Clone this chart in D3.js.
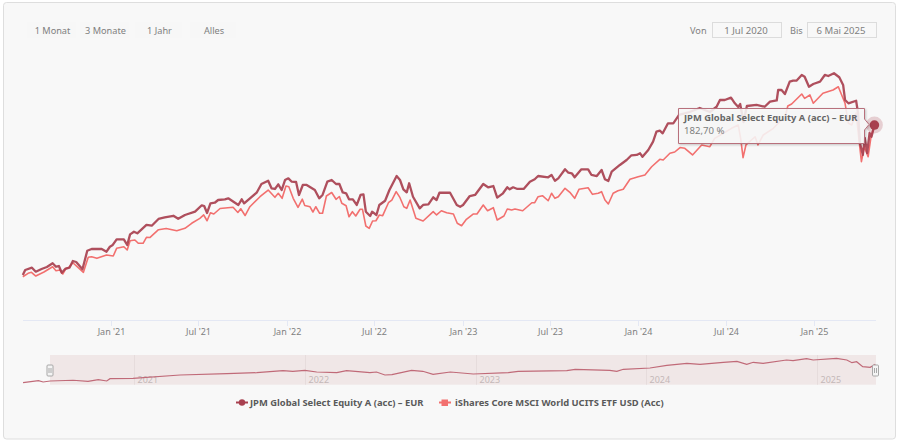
<html>

<head>
	<script src="https://d3js.org/d3.v7.min.js"></script>
	<style>
		html, body { margin: 0; padding: 0; background: #fff; overflow: hidden; }
		text { font-family: "Noto Sans", sans-serif; }
	</style>
</head>

<body>
	<div id="chart"></div>
</body>

<script>
// days since 1 Jul 2020 and performance in %
var jpmDays = [0,5,19,27,39,50,62,69,75,81,88,97,104,111,124,134,143,164,174,181,187,195,210,217,223,231,238,257,268,282,295,313,323,337,358,372,377,383,390,399,406,420,427,448,455,460,486,496,510,517,524,531,538,545,552,559,568,574,582,590,607,616,623,633,642,651,658,665,672,678,686,694,702,708,713,722,726,735,741,753,762,777,784,791,798,803,811,825,832,843,853,860,866,888,902,909,915,929,940,957,967,978,986,998,1007,1012,1019,1028,1041,1054,1064,1071,1092,1099,1106,1113,1127,1134,1141,1147,1161,1175,1182,1193,1203,1210,1217,1224,1241,1255,1265,1276,1283,1288,1300,1310,1317,1324,1330,1341,1352,1364,1386,1407,1428,1442,1449,1459,1472,1480,1487,1491,1498,1505,1525,1542,1553,1567,1570,1577,1584,1594,1601,1608,1619,1625,1634,1643,1657,1667,1674,1686,1697,1705,1709,1716,1732,1736,1740,1746,1750,1755,1760,1764,1770]
var jpmValues = [-4.8,1.5,4.4,-0.6,2.8,5.3,9.9,5.6,6.5,-1.9,2.8,4.4,12.8,11.5,2.4,25.6,27.8,27.8,24.4,30.6,32.8,39.9,39.9,32.8,46.1,49.4,47.4,57.8,56.9,65.3,67.4,69.3,65.5,70.3,74.4,82.4,81.5,72.8,84.9,85.6,89,89.9,91.1,82.8,89.9,84.9,98.1,109,113.1,103.6,102.8,108.6,101.5,114,116.1,111.9,111.5,95.3,107.8,107.8,101.5,91.1,95.3,111.9,114,109,109,98.4,97.4,89.9,89.9,82.8,95.3,96.1,74.4,69,74.4,70.3,82.8,88.1,101.5,119,114,102.4,98.6,109.9,93.1,78.6,82.8,83.6,92.4,89,98.1,98.1,82.8,80.6,82.8,94,95.3,109,104.9,106.5,91.9,97.4,104.9,102.4,104.9,102.8,102.8,111.9,114.9,119,117.4,120.3,113.1,116.1,127.4,123.1,122.4,117.4,127.4,127.4,120.3,119,126.5,114.9,112.8,124.4,132.8,139,144.9,145.3,147.4,143.1,151.5,161.9,174.4,175.6,172.4,184.9,184.9,195.3,199,204,199,205.6,214,214,216.9,209.9,205.3,209,186.5,206.5,207.8,205.6,211.9,213.4,226.5,226.5,221.5,236.9,238.1,238.1,245.3,243.1,230.6,234,236.9,245.3,244,247.4,242.4,232.8,214,209.9,213.1,197.8,160.3,145.3,166.5,147.8,172.8,168.1,182.7]

var isharesDays = [0,11,18,27,44,62,69,77,83,90,95,104,126,136,143,154,174,188,195,210,217,223,233,240,250,257,264,282,298,320,337,351,368,376,383,390,397,410,437,447,453,462,472,493,510,524,531,539,547,553,562,572,581,586,597,603,609,617,623,631,642,651,658,663,672,678,685,692,701,706,713,720,727,734,741,748,760,767,776,784,792,798,805,817,832,853,860,870,881,895,903,912,922,936,944,957,966,978,986,1000,1007,1016,1023,1039,1058,1064,1071,1080,1092,1099,1106,1113,1127,1137,1147,1156,1175,1184,1196,1203,1210,1217,1227,1237,1248,1262,1279,1293,1307,1324,1331,1345,1355,1366,1376,1392,1411,1428,1438,1456,1473,1487,1492,1497,1503,1522,1528,1539,1560,1573,1584,1590,1598,1619,1625,1636,1643,1663,1684,1695,1702,1709,1716,1723,1732,1738,1743,1749,1757,1763,1770]
var isharesValues = [-6.9,-2.6,-1.4,-6,-1,5.6,0.6,1.5,-3.5,3.6,4.4,10.6,-1.4,17.4,18.1,16.1,20.3,19,28.6,30.6,26.5,38.1,39,34.9,34.9,42.4,42.1,51.9,53.4,50.5,53.6,59.9,66.1,70.3,63.1,73.1,71.5,78.4,79.9,73.4,78.1,69.6,80.6,93.1,101.5,92.4,97.4,91.1,106.5,105.6,91.1,79.9,90,82.1,80.5,74,80.6,72.4,72.4,94,98.4,89.9,93.4,84.9,81.9,68.1,74.4,69,77.4,77.4,56.5,53.6,62.8,63.1,70.3,69.4,85.6,89,99.4,91.9,80.6,78.6,89,66.1,62.8,74.4,70.3,75.6,73.1,71.5,59.9,56.9,64.9,71.5,71.5,82.8,75.6,79.4,64,69,77.8,76.5,77.8,75.6,85.6,85.6,93.1,94.4,88.1,97.4,91.1,93.1,103.6,98.6,91.1,102.4,104.4,96.1,97.4,99.4,89,84,97.4,100.6,102.4,114.9,118.1,120.3,130.6,139.9,139,147.4,149,154.6,153.6,145.3,157.8,155.6,166.1,172.4,178.6,182.8,166.1,141.9,157.8,168.1,157.8,170.3,178.6,186.9,191.5,206.5,209,221.5,216.1,220.3,209.9,222.4,226.5,230.6,220.3,209.9,184.9,182.8,197.8,164,136.9,155.3,143.1,168.1,182.7]

// overview strip starts a bit before the selected range
var navDays = [-54,-21,-11,4,53,85,107,125,132,181,282,382,446,502,523,549,574,617,638,688,702,720,735,777,801,823,860,909,984,1005,1109,1127,1201,1216,1230,1287,1323,1366,1394,1444,1473,1494,1508,1529,1579,1593,1622,1636,1686,1708,1719,1729,1742,1758,1769]
var navValues = [-6.2,14.4,1,11.3,18.5,8.2,24.6,11.3,34.9,39,72.8,86.1,96.4,116.9,110.7,121,103.5,96.4,116.9,96.4,103.5,72.8,75.9,121,110.7,80,103.5,83,96.4,110.7,116.9,131.2,121,110.7,131.2,144.5,172.2,192.7,182.5,203,213.2,182.5,203,192.7,226.5,219.4,239.9,226.5,244,226.5,198.9,209.1,157.9,151.7,182.5]

var axisTicks = ["2021-01-01","2021-07-01","2022-01-01","2022-07-01","2023-01-01","2023-07-01","2024-01-01","2024-07-01","2025-01-01"]
var axisLabels = ["Jan '21","Jul '21","Jan '22","Jul '22","Jan '23","Jul '23","Jan '24","Jul '24","Jan '25"]
var navTicks = ["2021-01-01","2022-01-01","2023-01-01","2024-01-01","2025-01-01"]
var navLabels = ["2021","2022","2023","2024","2025"]
var rangeButtons = ["1 Monat","3 Monate","1 Jahr","Alles"]
var seriesNames = ["JPM Global Select Equity A (acc) – EUR","iShares Core MSCI World UCITS ETF USD (Acc)"]

var jpmColor = "#a8404f"
var isharesColor = "#f2706f"
var textColor = "#808080"
var font = "9.2px"
var boldFont = "9.4px"

var start = new Date(2020, 6, 1)
var end = new Date(2025, 4, 6)
var parseDay = d3.timeParse("%Y-%m-%d")

function toDate(days){ return d3.timeDay.offset(start, days) }

var svg = d3.select("#chart").append("svg")
	.attr("width", 900)
	.attr("height", 443)

var defs = svg.append("defs")
var shadow = defs.append("filter").attr("id", "tipShadow")
	.attr("x", "-5%").attr("y", "-15%").attr("width", "110%").attr("height", "135%")
shadow.append("feDropShadow")
	.attr("dx", 1).attr("dy", 1).attr("stdDeviation", 1.2)
	.attr("flood-color", "#000").attr("flood-opacity", 0.22)

// card
svg.append("rect")
	.attr("x", 3.5).attr("y", 2.5)
	.attr("width", 892).attr("height", 436.5)
	.attr("rx", 3)
	.attr("fill", "#f8f8f8")
	.attr("stroke", "#dedede")

var x = d3.scaleTime().domain([start, end]).range([22.8, 874.4])
var y = d3.scaleLinear().domain([-61.6, 276.5]).range([320.5, 50])
var navX = d3.scaleTime().domain([start, end]).range([48.3, 875.8])
var navY = d3.scaleLinear().domain([-30, 280]).range([385, 354.8])

// range buttons
var buttonX = [27, 80, 135, 190]
var buttonW = [49, 49, 47, 46]
var buttons = svg.append("g").selectAll("g")
	.data(rangeButtons)
	.enter().append("g")
buttons.append("rect")
	.attr("x", function(d, i){ return buttonX[i] })
	.attr("y", 22)
	.attr("width", function(d, i){ return buttonW[i] })
	.attr("height", 16)
	.attr("fill", "#f7f7f7")
buttons.append("text")
	.attr("x", function(d, i){ return buttonX[i] + buttonW[i] / 2 + 1 })
	.attr("y", 33.5)
	.attr("text-anchor", "middle")
	.attr("font-size", font)
	.attr("fill", textColor)
	.text(function(d){ return d })

// date inputs
function dateBox(label, labelX, boxX, value){
	svg.append("text").attr("x", labelX).attr("y", 33.5)
		.attr("font-size", font).attr("fill", textColor).text(label)
	svg.append("rect").attr("x", boxX + 0.5).attr("y", 22.5)
		.attr("width", 69).attr("height", 15)
		.attr("fill", "#f8f8f8").attr("stroke", "#dcdcdc")
	svg.append("text").attr("x", boxX + 34).attr("y", 33.5)
		.attr("text-anchor", "middle")
		.attr("font-size", "9.6px").attr("fill", textColor).text(value)
}
dateBox("Von", 690, 712, "1 Jul 2020")
dateBox("Bis", 790, 807, "6 Mai 2025")

// x axis
svg.append("line")
	.attr("x1", 23).attr("x2", 876).attr("y1", 320.5).attr("y2", 320.5)
	.attr("stroke", "#e4e8f4")
var axisGroup = svg.append("g").selectAll("g")
	.data(axisTicks)
	.enter().append("g")
	.attr("transform", function(d){ return "translate(" + (Math.round(x(parseDay(d))) + 0.5) + ",320)" })
axisGroup.append("line").attr("y2", 6).attr("stroke", "#e4e8f4")
axisGroup.append("text")
	.attr("y", 14.5)
	.attr("text-anchor", "middle")
	.attr("font-size", "9px")
	.attr("fill", textColor)
	.text(function(d, i){ return axisLabels[i] })

// main lines
var jpmPoints = jpmDays.map(function(d, i){ return [toDate(d), jpmValues[i]] })
var isharesPoints = isharesDays.map(function(d, i){ return [toDate(d), isharesValues[i]] })
var navPoints = navDays.map(function(d, i){ return [toDate(d), navValues[i]] })

var line = d3.line()
	.x(function(d){ return x(d[0]) })
	.y(function(d){ return y(d[1]) })

svg.append("path")
	.attr("d", line(isharesPoints))
	.attr("fill", "none")
	.attr("stroke", isharesColor)
	.attr("stroke-width", 1.6)
	.attr("stroke-linejoin", "round")
svg.append("path")
	.attr("d", line(jpmPoints))
	.attr("fill", "none")
	.attr("stroke", jpmColor)
	.attr("stroke-width", 2.3)
	.attr("stroke-opacity", 0.92)
	.attr("stroke-linejoin", "round")

// overview strip
svg.append("rect")
	.attr("x", navX(start) + 1.7).attr("y", 355)
	.attr("width", 826).attr("height", 29.7)
	.attr("fill", "#f0e7e7")
var navGroup = svg.append("g").selectAll("g")
	.data(navTicks)
	.enter().append("g")
	.attr("transform", function(d){ return "translate(" + (Math.round(navX(parseDay(d))) + 0.5) + ",0)" })
navGroup.append("line").attr("y1", 355).attr("y2", 384.7).attr("stroke", "#e6dcdc")
navGroup.append("text")
	.attr("x", 3).attr("y", 383)
	.attr("font-size", "9px")
	.attr("fill", "#c4b8b8")
	.text(function(d, i){ return navLabels[i] })

var navLine = d3.line()
	.x(function(d){ return navX(d[0]) })
	.y(function(d){ return navY(d[1]) })
svg.append("path")
	.attr("d", navLine(navPoints))
	.attr("fill", "none")
	.attr("stroke", "#c06a78")
	.attr("stroke-width", 1.2)

function navHandle(cx){
	var h = svg.append("g").attr("transform", "translate(" + cx + ",365)")
	h.append("rect").attr("x", -2.5).attr("width", 6).attr("height", 11).attr("rx", 1)
		.attr("fill", "#f4f4f4").attr("stroke", "#a8a8a8")
	h.append("line").attr("x1", -0.5).attr("x2", -0.5).attr("y1", 3).attr("y2", 8).attr("stroke", "#a8a8a8")
	h.append("line").attr("x1", 1.5).attr("x2", 1.5).attr("y1", 3).attr("y2", 8).attr("stroke", "#a8a8a8")
}
navHandle(49.5)
navHandle(875)

// legend
var legendLine = [236, 439]
var legendText = [250, 455]
var legendColors = [jpmColor, isharesColor]
var legend = svg.append("g").selectAll("g")
	.data(seriesNames)
	.enter().append("g")
legend.append("line")
	.attr("x1", function(d, i){ return legendLine[i] })
	.attr("x2", function(d, i){ return legendLine[i] + 12 })
	.attr("y1", 402.5).attr("y2", 402.5)
	.attr("stroke", function(d, i){ return legendColors[i] })
	.attr("stroke-width", 2)
legend.filter(function(d, i){ return i == 0 }).append("circle")
	.attr("cx", 242).attr("cy", 402.5).attr("r", 3.2)
	.attr("fill", jpmColor)
legend.filter(function(d, i){ return i == 1 }).append("rect")
	.attr("x", 441.5).attr("y", 399.5).attr("width", 6.5).attr("height", 6.5)
	.attr("fill", isharesColor)
legend.append("text")
	.attr("x", function(d, i){ return legendText[i] })
	.attr("y", 406)
	.attr("font-size", boldFont)
	.attr("font-weight", 700)
	.attr("fill", "#5a5a5a")
	.text(function(d){ return d })

// hover marker and tooltip
var lastX = x(jpmPoints[jpmPoints.length - 1][0])
var lastY = y(jpmValues[jpmValues.length - 1])
svg.append("circle").attr("cx", lastX).attr("cy", lastY).attr("r", 8.5)
	.attr("fill", jpmColor).attr("fill-opacity", 0.22)
svg.append("circle").attr("cx", lastX).attr("cy", lastY).attr("r", 4.8)
	.attr("fill", jpmColor)

var tip = d3.path()
tip.moveTo(678.5, 108.5)
tip.lineTo(864.5, 108.5)
tip.lineTo(864.5, 119)
tip.lineTo(869, 124.5)
tip.lineTo(864.5, 130)
tip.lineTo(864.5, 143.5)
tip.lineTo(678.5, 143.5)
tip.closePath()
svg.append("path")
	.attr("d", tip.toString())
	.attr("fill", "#f9f9f9")
	.attr("fill-opacity", 0.86)
	.attr("stroke", "#b8707c")
	.attr("filter", "url(#tipShadow)")
svg.append("text")
	.attr("x", 684).attr("y", 121)
	.attr("font-size", boldFont)
	.attr("font-weight", 700)
	.attr("fill", "#666")
	.text(seriesNames[0])
svg.append("text")
	.attr("x", 684).attr("y", 134)
	.attr("font-size", "9.6px")
	.attr("fill", textColor)
	.text("182,70 %")
</script>

</html>
